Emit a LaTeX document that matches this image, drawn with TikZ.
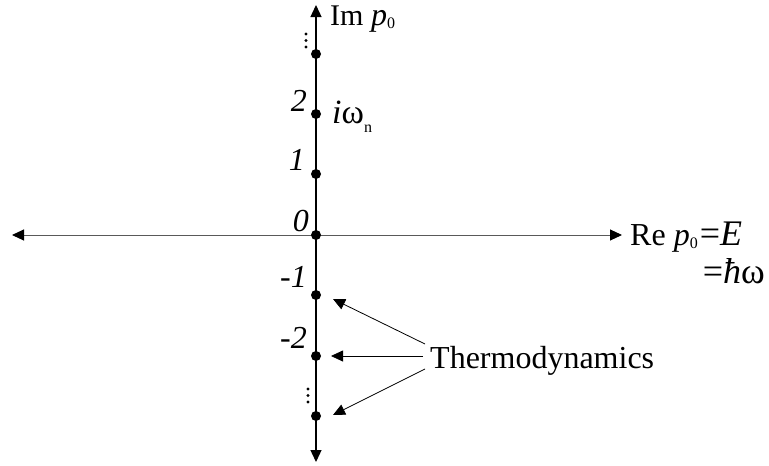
\documentclass[tikz,border=0pt]{standalone}
\usepackage{fontspec}
\setmainfont{Liberation Serif}
\usetikzlibrary{arrows.meta}
\newcommand\lowsub[2][3]{\raisebox{-#1pt}{\fontsize{16}{16}\selectfont #2}}
\newcommand\fs[1]{\fontsize{#1}{#1}\selectfont}
\tikzset{
  tip/.tip={Triangle[length=12pt,width=11pt,black]},
  axisline/.style={line width=1.3pt, -tip},
  pole/.style={circle, fill=black, inner sep=0pt, minimum size=10pt},
  tinydot/.style={circle, fill=black, inner sep=0pt, minimum size=3.2pt},
  lab/.style={inner sep=0pt, font=\fs{32}},
  thermoarrow/.style={line width=0.8pt, -tip}
}
\begin{document}
\begin{tikzpicture}[x=1pt,y=-1pt]
\useasboundingbox (0,0) rectangle (769,466);
% axes
\coordinate (hl) at (12,235);
\coordinate (hr) at (622,235);
\coordinate (vt) at (316,5);
\coordinate (vb) at (316,462);
\coordinate (o) at (316,235);
\draw[line width=1pt, black!65, tip-tip] (hl) -- (hr);
\draw[axisline] (o) -- (vt);
\draw[axisline] (o) -- (vb);
% poles
\node[pole] (p3) at (316,54) {};
\node[pole] (p2) at (316,114) {};
\node[pole] (p1) at (316,174) {};
\node[pole] (p0) at (316,235) {};
\node[pole] (m1) at (316,295) {};
\node[pole] (m2) at (316,356) {};
\node[pole] (m3) at (316,416) {};
% vertical ellipses
\node[tinydot] (d1) at (306,34) {};
\node[tinydot] (d2) at (306,40.5) {};
\node[tinydot] (d3) at (306,47) {};
\node[tinydot] (e1) at (308,389) {};
\node[tinydot] (e2) at (308,395.5) {};
\node[tinydot] (e3) at (308,402) {};
% numbers
\node[lab, anchor=base east] (l2) at (307,111) {\textit{2}};
\node[lab, anchor=base east] (l1) at (305,170) {\textit{1}};
\node[lab, anchor=base east] (l0) at (309,231) {\textit{0}};
\node[lab, anchor=base east] (lm1) at (307,287) {\textit{-1}};
\node[lab, anchor=base east] (lm2) at (307,348) {\textit{-2}};
% labels
\node[lab, anchor=base west] (iw) at (332,123) {\fs{34}\textit{i}ω\lowsub[9]{n}};
\node[lab, anchor=base west, font=\fs{30}] (im) at (330,25) {Im \fs{32}\textit{p}\lowsub{0}};
\node[lab, anchor=base west] (re) at (630,245) {Re \textit{p}\lowsub{0}\hspace{2pt}\fs{36}=\textit{E}};
\node[lab, anchor=base east] (hw) at (765,283) {\fs{36}=\textit{ħ}ω};
\node[lab, anchor=base west] (thermo) at (430,368) {Thermodynamics};
% thermodynamics arrows
\coordinate (t1) at (425,344);
\coordinate (t2) at (423,356);
\coordinate (t3) at (425,369);
\coordinate (a1) at (333,299);
\coordinate (a2) at (331,356);
\coordinate (a3) at (333,415);
\draw[thermoarrow] (t1) -- (a1);
\draw[thermoarrow] (t2) -- (a2);
\draw[thermoarrow] (t3) -- (a3);
\end{tikzpicture}
\end{document}
